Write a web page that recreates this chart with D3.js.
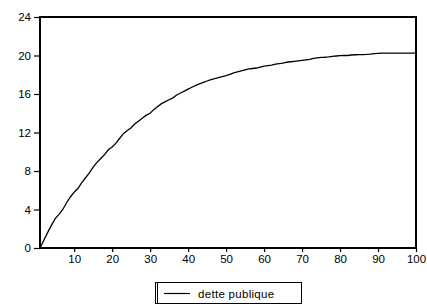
<!DOCTYPE html>
<html>
<head>
<meta charset="utf-8">
<script src="https://cdn.jsdelivr.net/npm/d3@7"></script>
<style>
  body { margin: 0; background: #fff; }
  text { font-family: "Liberation Sans", Arial, sans-serif; font-size: 11px; fill: #000; }
</style>
</head>
<body>
<svg id="chart" width="427" height="306"></svg>
<script>
'use strict';

// values, one per period
var periods = d3.range(1, 101);
var dette = [
  0, 0.8, 1.6, 2.35, 3.05, 3.5, 4.0, 4.7, 5.3, 5.8,
  6.2, 6.8, 7.3, 7.8, 8.4, 8.9, 9.3, 9.7, 10.2, 10.5,
  10.9, 11.4, 11.9, 12.2, 12.5, 12.9, 13.2, 13.5, 13.8, 14.0,
  14.4, 14.7, 15.0, 15.2, 15.4, 15.6, 15.9, 16.1, 16.3, 16.5,
  16.7, 16.9, 17.05, 17.2, 17.35, 17.5, 17.6, 17.7, 17.8, 17.9,
  18.05, 18.2, 18.3, 18.4, 18.5, 18.6, 18.65, 18.7, 18.8, 18.9,
  18.95, 19.0, 19.1, 19.15, 19.2, 19.3, 19.35, 19.4, 19.45, 19.5,
  19.55, 19.6, 19.7, 19.75, 19.8, 19.82, 19.85, 19.9, 19.95, 19.98,
  20.0, 20.0, 20.05, 20.08, 20.1, 20.1, 20.12, 20.15, 20.2, 20.23,
  20.25, 20.25, 20.25, 20.25, 20.25, 20.25, 20.25, 20.25, 20.25, 20.25
];
var xTicks = [10, 20, 30, 40, 50, 60, 70, 80, 90, 100];
var yTicks = [0, 4, 8, 12, 16, 20, 24];
var seriesName = 'dette publique';

var svg = d3.select('#chart');
var box = { left: 40, right: 416, top: 17, bottom: 248 };

var x = d3.scaleLinear().domain([1, 100]).range([box.left, box.right]);
var y = d3.scaleLinear().domain([0, 24]).range([box.bottom, box.top]);

// y axis, ticks pointing out
svg.append('g')
  .attr('transform', 'translate(' + box.left + ',0)')
  .call(d3.axisLeft(y).tickValues(yTicks).tickSize(6).tickPadding(3).tickFormat(d3.format('d')))
  .call(g => g.select('.domain').remove())
  .call(g => g.selectAll('line').attr('stroke', '#000').attr('stroke-width', 1.2))
  .call(g => g.selectAll('text').style('font-size', '11.5px').attr('font-family', null));

// x axis, ticks below
svg.append('g')
  .attr('transform', 'translate(0,' + box.bottom + ')')
  .call(d3.axisBottom(x).tickValues(xTicks).tickSize(4).tickPadding(3).tickFormat(d3.format('d')))
  .call(g => g.select('.domain').remove())
  .call(g => g.selectAll('line').attr('stroke', '#000').attr('stroke-width', 1.2))
  .call(g => g.selectAll('text').style('font-size', '11.5px').attr('font-family', null));

// frame
svg.append('rect')
  .attr('x', box.left)
  .attr('y', box.top)
  .attr('width', box.right - box.left)
  .attr('height', box.bottom - box.top)
  .attr('fill', 'none')
  .attr('stroke', '#000')
  .attr('stroke-width', 2);

// the series
var line = d3.line()
  .x((d, i) => x(periods[i]))
  .y(d => y(d));

svg.append('path')
  .datum(dette)
  .attr('fill', 'none')
  .attr('stroke', '#000')
  .attr('stroke-width', 1.3)
  .attr('d', line);

// legend
var lg = svg.append('g').attr('transform', 'translate(155,282)');
lg.append('rect')
  .attr('x', 0.5).attr('y', 0.5)
  .attr('width', 146).attr('height', 21)
  .attr('fill', '#fff')
  .attr('stroke', '#000')
  .attr('stroke-width', 1);
lg.append('line')
  .attr('x1', 2.5).attr('x2', 2.5).attr('y1', 0.5).attr('y2', 21.5)
  .attr('stroke', '#000');
lg.append('line')
  .attr('x1', 9).attr('x2', 35).attr('y1', 11.5).attr('y2', 11.5)
  .attr('stroke', '#000').attr('stroke-width', 1.2);
lg.append('text')
  .attr('x', 43).attr('y', 15.5)
  .style('font-size', '11.5px')
  .style('letter-spacing', '0.3px')
  .text(seriesName);
</script>
</body>
</html>
